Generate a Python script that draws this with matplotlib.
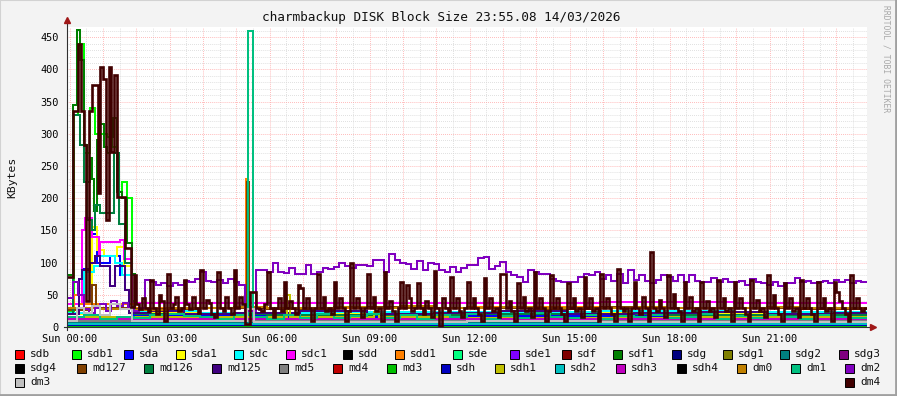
import numpy as np
import matplotlib
matplotlib.use("Agg")
import matplotlib.pyplot as plt
from matplotlib.patches import Rectangle

plt.rcParams['font.family'] = 'DejaVu Sans Mono'

# charmbackup DISK Block Size, 24h window starting Sat 23:55
# x values are hours since the window start

# dm4, one value every 5 minutes (12 per row = 1 hour)
dm4 = [
    78, 78, 335, 335, 440, 335, 283, 40, 335, 376, 376, 208,
    404, 385, 166, 404, 272, 392, 202, 202, 202, 122, 122, 31,
    80, 35, 28, 45, 30, 25, 73, 30, 20, 50, 40, 10,
    83, 30, 35, 47, 25, 30, 73, 35, 28, 47, 30, 22,
    88, 30, 42, 38, 20, 15, 86, 30, 25, 47, 30, 20,
    88, 30, 47, 35, 5, 5, 55, 55, 30, 28, 25, 35,
    86, 30, 15, 30, 45, 25, 70, 30, 40, 30, 20, 65,
    60, 30, 45, 30, 10, 30, 83, 30, 47, 25, 30, 20,
    70, 30, 45, 30, 10, 25, 99, 30, 45, 30, 15, 30,
    83, 30, 47, 25, 30, 10, 86, 30, 40, 25, 10, 30,
    70, 30, 65, 45, 25, 30, 68, 30, 20, 40, 30, 15,
    87, 30, 0, 45, 30, 25, 77, 30, 45, 25, 15, 30,
    70, 30, 45, 30, 20, 10, 76, 30, 45, 25, 30, 15,
    83, 83, 30, 40, 25, 10, 68, 30, 47, 25, 30, 15,
    86, 30, 45, 30, 10, 25, 80, 30, 45, 30, 20, 10,
    68, 30, 45, 25, 30, 15, 78, 30, 45, 25, 30, 10,
    83, 30, 45, 30, 20, 10, 90, 30, 25, 30, 10, 30,
    70, 30, 20, 47, 30, 10, 117, 30, 25, 42, 30, 15,
    80, 30, 52, 30, 25, 10, 70, 30, 47, 25, 30, 10,
    70, 30, 40, 25, 30, 15, 73, 30, 45, 25, 30, 10,
    70, 30, 45, 30, 20, 10, 73, 30, 42, 25, 30, 15,
    80, 30, 50, 30, 20, 10, 68, 30, 45, 25, 30, 15,
    73, 30, 45, 30, 20, 10, 70, 30, 45, 25, 30, 10,
    70, 55, 40, 30, 20, 10, 80, 30, 45, 30, 25, 30,
]

# dm2, one value every 10 minutes (6 per row = 1 hour)
dm2 = [
    45, 70, 50, 28, 22, 30,
    35, 25, 40, 32, 38, 30,
    25, 30, 73, 70, 65, 68,
    64, 68, 66, 72, 70, 75,
    86, 72, 70, 73, 68, 75,
    70, 66, 25, 25, 88, 88,
    86, 99, 86, 84, 92, 83,
    83, 96, 83, 85, 92, 90,
    93, 99, 94, 92, 96, 97,
    94, 104, 104, 86, 114, 104,
    100, 98, 90, 102, 88, 100,
    98, 88, 85, 93, 86, 92,
    96, 96, 107, 109, 90, 95,
    101, 85, 80, 78, 70, 88,
    85, 83, 83, 75, 72, 70,
    70, 70, 78, 82, 80, 85,
    75, 80, 72, 83, 68, 88,
    73, 80, 72, 68, 73, 80,
    78, 72, 80, 70, 80, 72,
    70, 70, 76, 70, 74, 70,
    70, 72, 66, 74, 70, 68,
    66, 70, 64, 68, 68, 76,
    70, 72, 68, 70, 72, 68,
    73, 70, 73, 68, 72, 70,
]

# busier devices: (start hour, value) change points
dm1_t = [0, 0.5, 1, 1.5, 2, 2.5, 3, 3.5, 4, 4.5, 5, 5.43, 5.57,
         6, 6.5, 7, 7.5, 8, 8.5, 9, 9.5, 10, 10.5, 11, 11.5,
         12, 12.5, 13, 13.5, 14, 14.5, 15, 15.5, 16, 16.5, 17, 17.5,
         18, 18.5, 19, 19.5, 20, 20.5, 21, 21.5, 22, 22.5, 23, 23.5]
dm1_v = [15, 18, 12, 16, 14, 18, 20, 17, 15, 13, 18, 460, 15,
         12, 18, 14, 20, 14, 17, 20, 14, 18, 12, 19, 15,
         20, 13, 17, 14, 21, 16, 14, 18, 12, 17, 15, 19,
         14, 16, 20, 13, 17, 14, 19, 15, 13, 18, 16, 14]

sdf1_t = [0, 0.17, 0.3, 0.4, 0.5, 0.6, 0.68, 0.75, 0.8, 0.9, 1.0,
          1.1, 1.2, 1.3, 1.38, 1.5, 1.65, 1.8, 1.95, 2.05]
sdf1_v = [80, 345, 462, 415, 283, 225, 262, 230, 180, 290, 315,
          280, 270, 295, 325, 210, 200, 130, 82, 35]

sdb1_t = [0, 0.2, 0.33, 0.5, 0.7, 0.85, 1.2, 1.35, 1.5, 1.65, 1.8, 1.95]
sdb1_v = [25, 330, 440, 270, 340, 300, 295, 280, 210, 225, 200, 40]

md126_t = [0, 0.17, 0.4, 0.5, 0.6, 0.75, 0.85, 1.0, 1.4, 1.55, 1.75, 1.95,
           2.05, 6, 12, 18]
md126_v = [20, 330, 283, 225, 166, 150, 190, 177, 270, 160, 100, 80,
           20, 19, 20, 19]

md125_t = [0, 0.35, 0.45, 0.7, 0.85, 1.0, 1.3, 1.45, 1.75, 1.85, 2.5, 3.5,
           5, 5.4, 5.6, 7, 9, 11, 13, 15, 17, 19, 21, 23]
md125_v = [20, 75, 88, 99, 110, 95, 63, 95, 57, 22, 25, 20,
           22, 30, 22, 25, 20, 22, 25, 20, 22, 24, 20, 22]

sdc1_t = [0, 0.45, 0.55, 0.75, 0.95, 1.0, 1.6, 1.7, 1.95, 3, 5.38, 5.45,
          8, 12, 16, 20]
sdc1_v = [35, 150, 170, 140, 110, 132, 135, 105, 38, 38, 122, 38,
          37, 38, 39, 37]

sdc_t = [0, 0.5, 0.8, 1.0, 1.45, 1.65, 1.95, 4, 8, 12, 16, 20]
sdc_v = [22, 85, 95, 110, 100, 80, 25, 22, 24, 23, 25, 24]

sda_t = [0, 0.5, 0.75, 0.9, 1.3, 1.6, 1.95, 6, 12, 18]
sda_v = [15, 90, 145, 100, 110, 80, 18, 16, 17, 16]

sda1_t = [0, 0.75, 0.9, 1.1, 1.5, 1.7, 1.95, 6, 12, 18]
sda1_v = [20, 155, 120, 110, 125, 95, 22, 20, 21, 20]

md127_t = [0, 0.75, 0.87, 2, 4, 5.4, 5.47, 6, 8, 10, 12, 14, 16, 18, 20, 22]
md127_v = [27, 65, 30, 28, 30, 225, 30, 28, 31, 29, 30, 28, 31, 29, 30, 28]

sdd1_t = [0, 0.2, 0.35, 2, 5.37, 5.43, 8, 12, 16, 20]
sdd1_v = [30, 50, 35, 30, 230, 30, 30, 31, 30, 30]

dm3_t = [0, 0.3, 0.5, 0.75, 1.0, 1.3, 1.6, 1.95, 5.4, 5.6, 8, 12, 16, 20]
dm3_v = [10, 30, 22, 32, 18, 35, 28, 9, 28, 8, 8, 9, 8, 8]

sdh1_t = [0, 6.6, 6.7, 9.2, 9.35, 12, 18]
sdh1_v = [15, 50, 15, 24, 15, 14, 15]

# quiet devices, hourly values
sdb = [1, 1, 2, 1, 1, 1, 2, 1, 1, 1, 2, 1, 1, 1, 2, 1, 1, 1, 2, 1, 1, 1, 2, 1]
sde = [2, 1, 1, 2, 1, 1, 2, 1, 1, 2, 1, 1, 2, 1, 1, 2, 1, 1, 2, 1, 1, 2, 1, 1]
sde1 = [12, 12, 11, 12, 11, 12, 12, 11, 12, 11, 12, 12, 11, 12, 11, 12, 12, 11, 12, 11, 12, 12, 11, 12]
sdg = [2, 2, 3, 2, 2, 2, 3, 2, 2, 2, 3, 2, 2, 2, 3, 2, 2, 2, 3, 2, 2, 2, 3, 2]
sdg1 = [2, 2, 2, 2, 2, 2, 2, 2, 2, 2, 2, 2, 2, 2, 2, 2, 2, 2, 2, 2, 2, 2, 2, 2]
sdg2 = [6, 6, 7, 6, 6, 6, 7, 6, 6, 6, 7, 6, 6, 6, 7, 6, 6, 6, 7, 6, 6, 6, 7, 6]
sdg3 = [11, 12, 11, 10, 11, 12, 11, 11, 10, 11, 12, 11, 11, 10, 11, 12, 11, 11, 10, 11, 12, 11, 11, 10]
md5 = [9, 9, 10, 9, 9, 9, 10, 9, 9, 9, 10, 9, 9, 9, 10, 9, 9, 9, 10, 9, 9, 9, 10, 9]
md4 = [1, 1, 1, 1, 1, 1, 1, 1, 1, 1, 1, 1, 1, 1, 1, 1, 1, 1, 1, 1, 1, 1, 1, 1]
md3 = [2, 2, 2, 2, 2, 2, 2, 2, 2, 2, 2, 2, 2, 2, 2, 2, 2, 2, 2, 2, 2, 2, 2, 2]
sdh = [3, 3, 3, 3, 3, 3, 3, 3, 3, 3, 3, 3, 3, 3, 3, 3, 3, 3, 3, 3, 3, 3, 3, 3]
sdh2 = [4, 4, 4, 4, 4, 4, 4, 4, 4, 4, 4, 4, 4, 4, 4, 4, 4, 4, 4, 4, 4, 4, 4, 4]
sdh3 = [12, 13, 12, 12, 13, 12, 12, 13, 12, 12, 13, 12, 12, 13, 12, 12, 13, 12, 12, 13, 12, 12, 13, 12]
dm0 = [30, 28, 26, 29, 30, 31, 30, 29, 31, 30, 32, 30, 29, 31, 30, 29, 30, 31, 30, 29, 30, 31, 30, 29]

tick_labels = ['Sun 00:00', 'Sun 03:00', 'Sun 06:00', 'Sun 09:00',
               'Sun 12:00', 'Sun 15:00', 'Sun 18:00', 'Sun 21:00']

colors = {
    'sdb': '#ff0000', 'sdb1': '#00ff00', 'sda': '#0000ff', 'sda1': '#ffff00',
    'sdc': '#00ffff', 'sdc1': '#ff00ff', 'sdd': '#000000', 'sdd1': '#ff8000',
    'sde': '#00ff80', 'sde1': '#8000ff', 'sdf': '#800000', 'sdf1': '#008000',
    'sdg': '#000080', 'sdg1': '#808000', 'sdg2': '#008080', 'sdg3': '#800080',
    'sdg4': '#000000', 'md127': '#804000', 'md126': '#008040', 'md125': '#400080',
    'md5': '#808080', 'md4': '#c00000', 'md3': '#00c000', 'sdh': '#0000c0',
    'sdh1': '#c0c000', 'sdh2': '#00c0c0', 'sdh3': '#c000c0', 'sdh4': '#000000',
    'dm0': '#c08000', 'dm1': '#00c080', 'dm2': '#8000c0', 'dm3': '#c0c0c0',
    'dm4': '#400000',
}

W, H = 897, 396
fig = plt.figure(figsize=(W / 100, H / 100), dpi=100)
fig.patch.set_facecolor('#f3f3f3')
ax = fig.add_axes([67 / W, 1 - 327 / H, 800 / W, 300 / H])
ax.set_facecolor('white')

hours = np.arange(25)
LW = 1.45


def steps(t, v, name, end=24.0, lw=LW):
    edges = list(t) + [end]
    ax.stairs(v, edges, baseline=None, color=colors[name], lw=lw, zorder=3)


# drawn in legend order, dm4 last (on top)
steps(hours[:-1], sdb, 'sdb')
steps(sdb1_t, sdb1_v, 'sdb1', end=2.05)
steps(sda_t, sda_v, 'sda')
steps(sda1_t, sda1_v, 'sda1')
steps(sdc_t, sdc_v, 'sdc')
steps(sdc1_t, sdc1_v, 'sdc1')
steps(sdd1_t, sdd1_v, 'sdd1')
steps(hours[:-1], sde, 'sde')
steps(hours[:-1], sde1, 'sde1')
steps(sdf1_t, sdf1_v, 'sdf1', end=2.1)
steps(hours[:-1], sdg, 'sdg')
steps(hours[:-1], sdg1, 'sdg1')
steps(hours[:-1], sdg2, 'sdg2')
steps(hours[:-1], sdg3, 'sdg3')
steps(md127_t, md127_v, 'md127')
steps(md126_t, md126_v, 'md126')
steps(md125_t, md125_v, 'md125')
steps(hours[:-1], md5, 'md5')
steps(hours[:-1], md4, 'md4')
steps(hours[:-1], md3, 'md3')
steps(hours[:-1], sdh, 'sdh')
steps(sdh1_t, sdh1_v, 'sdh1')
steps(hours[:-1], sdh2, 'sdh2')
steps(hours[:-1], sdh3, 'sdh3')
steps(hours[:-1], dm0, 'dm0')
steps(dm1_t, dm1_v, 'dm1')
ax.stairs(dm2, np.arange(len(dm2) + 1) / 6, baseline=None,
          color=colors['dm2'], lw=LW, zorder=3)
steps(dm3_t, dm3_v, 'dm3')
ax.stairs(dm4, np.arange(len(dm4) + 1) / 12, baseline=None,
          color=colors['dm4'], lw=1.9, zorder=3)

ax.set_xlim(0, 24)
ax.set_ylim(0, 466)

# grid: red every hour / 50, grey every half hour / 10
off = 5 / 60
ax.set_xticks(off + np.arange(24))
ax.set_xticklabels([tick_labels[k // 3] if k % 3 == 0 else '' for k in range(24)],
                   fontsize=7.4)
ax.set_xticks(off + 0.5 + np.arange(24), minor=True)
ax.set_yticks(np.arange(0, 451, 50))
ax.set_yticklabels([str(v) for v in range(0, 451, 50)], fontsize=7.4)
ax.set_yticks(np.arange(0, 461, 10), minor=True)
ax.tick_params(which='both', length=0)
ax.tick_params(axis='y', pad=6)
ax.tick_params(axis='x', pad=5)
ax.grid(which='major', color='#ffa0a0', linestyle=(0, (0.7, 1.4)), lw=0.7)
ax.grid(which='minor', color='#d4d4d4', linestyle=(0, (0.7, 1.4)), lw=0.7)
ax.set_axisbelow(True)
for s in ax.spines.values():
    s.set_visible(False)

# axes with arrows
ax.plot([0, 0], [-0.01, 1.02], transform=ax.transAxes, color='#303030',
        lw=0.8, clip_on=False, zorder=4)
ax.plot([-0.004, 1.006], [0, 0], transform=ax.transAxes, color='#303030',
        lw=0.8, clip_on=False, zorder=4)
ax.plot([0], [1.025], marker='^', ms=4.5, color='#a01818', transform=ax.transAxes,
        clip_on=False, zorder=5)
ax.plot([1.0075], [0], marker='>', ms=4.5, color='#a01818', transform=ax.transAxes,
        clip_on=False, zorder=5)

# texts
fig.text(441 / W, 1 - 18 / H, 'charmbackup DISK Block Size 23:55.08 14/03/2026',
         ha='center', va='center', fontsize=9.2, color='#111111')
fig.text(12 / W, 1 - 177 / H, 'KBytes', rotation=90, ha='center', va='center',
         fontsize=8.2, color='#111111')
fig.text(886 / W, 1 - 59 / H, 'RRDTOOL / TOBI OETIKER', rotation=270,
         ha='center', va='center', fontsize=5.8, color='#a8a8a8')

# legend, laid out like rrdtool's justified rows
legend_rows = [
    (354, [('sdb', 15), ('sdb1', 72), ('sda', 124), ('sda1', 176), ('sdc', 234),
           ('sdc1', 286), ('sdd', 343), ('sdd1', 395), ('sde', 453), ('sde1', 510),
           ('sdf', 562), ('sdf1', 613), ('sdg', 672), ('sdg1', 723), ('sdg2', 780),
           ('sdg3', 839)]),
    (368, [('sdg4', 15), ('md127', 77), ('md126', 144), ('md125', 212), ('md5', 279),
           ('md4', 333), ('md3', 387), ('sdh', 441), ('sdh1', 495), ('sdh2', 555),
           ('sdh3', 616), ('sdh4', 677), ('dm0', 737), ('dm1', 791), ('dm2', 845)]),
    (382, [('dm3', 15), ('dm4', 845)]),
]
for yc, items in legend_rows:
    for name, x in items:
        fig.add_artist(Rectangle((x / W, 1 - (yc + 4.5) / H), 9 / W, 9 / H,
                                 transform=fig.transFigure, fc=colors[name],
                                 ec='black', lw=0.7))
        fig.text((x + 15) / W, 1 - yc / H, name, ha='left', va='center',
                 fontsize=8, color='#111111')

# 3d frame
fig.add_artist(Rectangle((0, 0), 1, 1, transform=fig.transFigure, fill=False,
                         ec='#d2d2d2', lw=1.5))
fig.add_artist(plt.Line2D([0, 1], [1.5 / H, 1.5 / H], transform=fig.transFigure,
                          color='#a0a0a0', lw=2))
fig.add_artist(plt.Line2D([1 - 1.5 / W, 1 - 1.5 / W], [0, 1], transform=fig.transFigure,
                          color='#a0a0a0', lw=2))

fig.savefig('out.png', dpi=100, facecolor=fig.get_facecolor())
